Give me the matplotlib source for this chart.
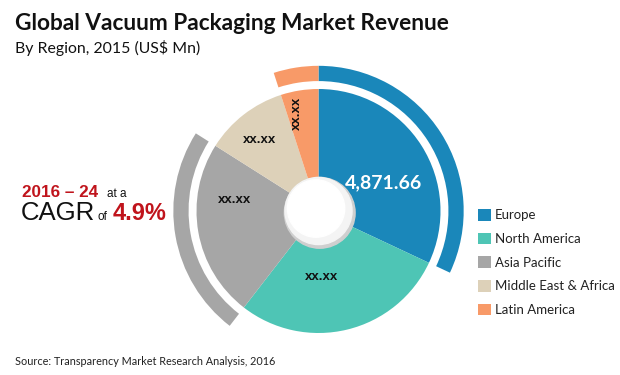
import matplotlib.pyplot as plt
from matplotlib.patches import Circle

# данные
regions = ['Europe', 'North America', 'Asia Pacific', 'Middle East & Africa', 'Latin America']
revenue = [4871.66, 4340, 3580, 1680, 760]   # US$ Mn, 2015 (кроме Европы - оценка по углам)
slice_labels = ['4,871.66', 'xx.xx', 'xx.xx', 'xx.xx', 'xx.xx']
colors = ['#1a87ba', '#4ec5b5', '#a6a6a6', '#ddd1b9', '#f89a68']
ring_colors = ['#1a87ba', 'none', '#a6a6a6', 'none', '#f89a68']

W, H = 620, 375
cx, cy, R = 318.5, 211, 122   # центр и радиус круга, px


def px(x, y):
    return x / W, 1 - y / H


fig = plt.figure(figsize=(6.2, 3.75), dpi=100)
ax = fig.add_axes([0, 0, 1, 1])
ax.axis('off')

wedges, _ = ax.pie(revenue, colors=colors, startangle=90, counterclock=False,
                   radius=1, wedgeprops=dict(linewidth=0))
ax.pie(revenue, colors=ring_colors, startangle=90, counterclock=False,
       radius=1.19, wedgeprops=dict(width=0.125, linewidth=0))
ax.set_xlim(-cx / R, (W - cx) / R)
ax.set_ylim(-(H - cy) / R, cy / R)
ax.set_aspect('auto')

# центральная "кнопка"
ax.add_patch(Circle((0.01, -0.015), 0.29, color='#cfcfcf', zorder=5))
ax.add_patch(Circle((0, 0), 0.275, color='#f4f4f4', zorder=6))
ax.add_patch(Circle((-0.02, 0.02), 0.235, color='white', zorder=7))

# подписи секторов
ax.text(*px(383, 183), slice_labels[0], transform=fig.transFigure,
        ha='center', va='center', color='white', fontsize=14, fontweight='bold',
        family='Lato', zorder=8)
pos = [(322, 277), (235, 200), (260, 140)]
for (x, y), lab in zip(pos, slice_labels[1:4]):
    fig.text(*px(x, y), lab, ha='center', va='center', fontsize=9.5,
             fontweight='bold', family='Liberation Sans', color='#111111')
fig.text(*px(297, 113), slice_labels[4], ha='center', va='center', fontsize=9.5,
         fontweight='bold', family='Liberation Sans', color='#111111', rotation=90)

# заголовки
fig.text(*px(15, 30), 'Global Vacuum Packaging Market Revenue', fontsize=16.3,
         fontweight='bold', family='Lato', color='#111111', va='baseline')
fig.text(*px(15, 53), 'By Region, 2015 (US$ Mn)', fontsize=11.4,
         family='Lato', color='#111111', va='baseline')

# CAGR
red = '#c0141c'
fig.text(*px(22, 197), '2016 \u2013 24', fontsize=12.3, fontweight='bold',
         family='Liberation Sans', color=red, va='baseline')
fig.text(*px(107, 197), 'at a', fontsize=8.5, family='Liberation Sans',
         color='#111111', va='baseline')
fig.text(*px(21, 220), 'CAGR', fontsize=18.5, family='Liberation Sans',
         color='#111111', va='baseline')
fig.text(*px(98, 220), 'of', fontsize=8.5, family='Liberation Sans',
         color='#111111', va='baseline')
fig.text(*px(113, 220), '4.9%', fontsize=17, fontweight='bold',
         family='Liberation Sans', color=red, va='baseline')

# легенда
fig.legend(wedges, regions, loc='upper left', bbox_to_anchor=px(478, 209),
           frameon=False, prop=dict(family='Lato', size=9.5), handlelength=1.0,
           handleheight=1.0, handletextpad=0.3, labelspacing=0.85, borderpad=0,
           borderaxespad=0, labelcolor='#222222')

fig.text(*px(15, 365), 'Source: Transparency Market Research Analysis, 2016',
         fontsize=7.8, family='Lato', color='#222222', va='baseline')

plt.savefig('out.png', dpi=100)
